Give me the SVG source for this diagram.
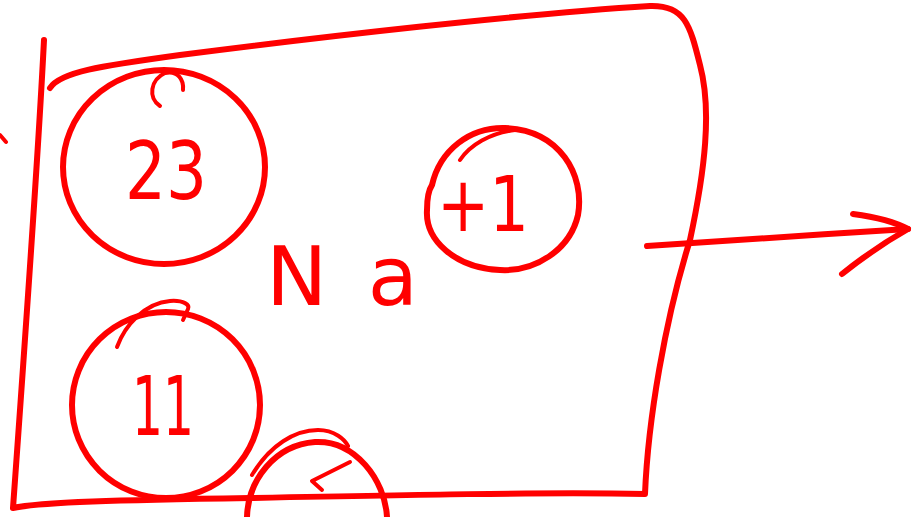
<svg xmlns="http://www.w3.org/2000/svg" width="913" height="517" viewBox="0 0 913 517">
<style>
.ink{fill:none;stroke:#ff0000;stroke-width:6;stroke-linecap:round;stroke-linejoin:round}
.thin{fill:none;stroke:#ff0000;stroke-width:4;stroke-linecap:round;stroke-linejoin:round}
.hand{fill:#ff0000;font-family:"DejaVu Sans","Liberation Sans",sans-serif;font-weight:normal}
</style>
<rect width="913" height="517" fill="#ffffff"/>
<g id="box">
<path class="ink" d="M44,40 C38,160 28,300 13,508 C40,502 120,500 250,498 C400,495 550,492 645,494 C648,420 665,320 690,240 C705,170 712,110 700,65 C690,25 685,5 650,6 C520,14 320,37 180,55 C100,66 60,72 50,88"/>
<path class="thin" d="M0,135 L6,142"/>
</g>
<g id="n23">
<ellipse class="ink" cx="164" cy="167" rx="101" ry="97"/>
<path class="thin" d="M160,106 C148,98 150,80 165,73 C178,70 184,80 183,90"/>
<text class="hand" x="125" y="199" font-size="80" textLength="82" lengthAdjust="spacingAndGlyphs">23</text>
</g>
<g id="nplus1">
<path class="ink" d="M432,185 C440,150 470,127 505,128 C560,130 585,175 578,215 C570,250 535,272 500,270 C455,268 425,240 427,210 C427,195 430,188 432,185"/>
<path class="thin" d="M460,160 C470,145 490,133 515,130"/>
<text class="hand" x="437" y="231" font-size="76" textLength="92" lengthAdjust="spacingAndGlyphs">+1</text>
</g>
<g id="na">
<text class="hand" x="266" y="305" font-size="82" textLength="152" lengthAdjust="spacing">Na</text>
</g>
<g id="n11">
<ellipse class="ink" cx="166" cy="405" rx="94" ry="93"/>
<path class="thin" d="M117,347 C125,325 145,303 170,301 C184,300 190,305 188,309 L183,320"/>
<text class="hand" x="132" y="435" font-size="82" textLength="62" lengthAdjust="spacingAndGlyphs">11</text>
</g>
<g id="nbottom">
<path class="ink" d="M247,517 C248,480 275,445 315,442 C355,440 385,480 387,517"/>
<path class="thin" d="M252,475 C270,445 295,430 318,430 C335,430 345,440 348,446"/>
<path class="thin" d="M350,462 L312,481 L322,490"/>
</g>
<g id="connectors">
<path class="ink" d="M647,246 C720,242 820,234 908,229"/>
<path class="ink" d="M853,214 C875,217 895,222 908,229 C885,242 862,258 842,274"/>
</g>
</svg>
